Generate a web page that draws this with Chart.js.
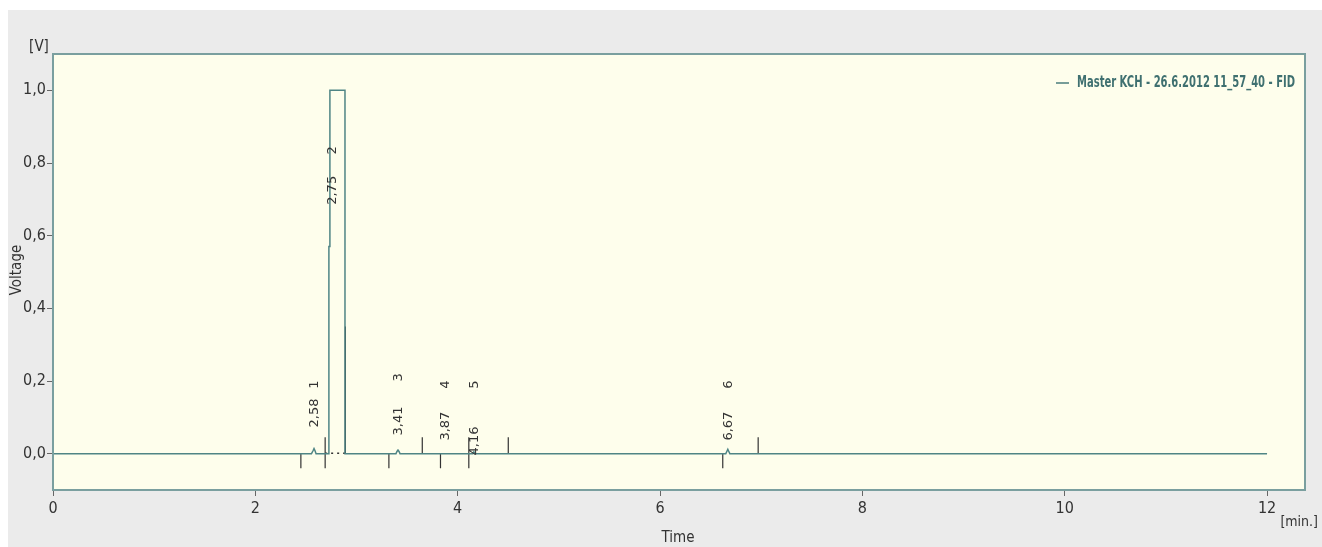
<!DOCTYPE html>
<html>
<head>
<meta charset="utf-8">
<script src="https://cdn.jsdelivr.net/npm/chart.js@4.4.1/dist/chart.umd.min.js"></script>
<style>
  body { margin: 0; background: #fff; }
  canvas { display: block; }
</style>
</head>
<body>
<canvas id="myChart" width="1322" height="547"></canvas>
<script>
const ctx = document.getElementById('myChart');

// chromatogram trace (time in min, signal in V)
var traceTimes = [0, 2.555, 2.57, 2.58, 2.59, 2.60, 2.727, 2.727, 2.737, 2.737, 2.886, 2.886, 2.90,
                  3.39, 3.40, 3.41, 3.42, 3.43, 4.15, 4.16, 4.17, 6.65, 6.66, 6.67, 6.68, 6.69, 12];
var traceVolts = [0, 0, 0.008, 0.014, 0.008, 0, 0, 0.57, 0.57, 1.0, 1.0, 0, 0,
                  0, 0.006, 0.01, 0.006, 0, 0, 0.005, 0, 0, 0.006, 0.012, 0.006, 0, 0];

// integration markers
var markerTimes = [2.45, 2.69, 2.89, 3.32, 3.65, 3.83, 4.11, 4.50, 6.62, 6.97];
var markerLow  = [-0.04, -0.04, 0, -0.04, 0, -0.04, -0.04, 0, -0.04, 0];
var markerHigh = [0, 0.045, 0.35, 0, 0.045, 0, 0.045, 0.045, 0, 0.045];

// peak labels
var peakTimes = [2.58, 2.75, 3.41, 3.87, 4.16, 6.67];
var peakNames = ['1', '2', '3', '4', '5', '6'];
var peakLabelBase = [0.072, 0.685, 0.05, 0.036, -0.005, 0.036];
var peakNameLevel = [0.19, 0.835, 0.21, 0.19, 0.19, 0.19];

var yTicks = [0, 0.2, 0.4, 0.6, 0.8, 1.0];
var xTicks = [0, 2, 4, 6, 8, 10, 12];

var traceData = traceTimes.map((t, i) => ({ x: t, y: traceVolts[i] }));
var markerData = [];
markerTimes.forEach((t, i) => {
  markerData.push({ x: t, y: markerLow[i] }, { x: t, y: markerHigh[i] }, { x: t, y: null });
});

const narrow = "'Liberation Sans Narrow', 'DejaVu Sans Condensed', 'Liberation Sans', sans-serif";
const fmt = v => v.toFixed(1).replace('.', ',');
const fmt2 = v => v.toFixed(2).replace('.', ',');

const decor = {
  id: 'decor',
  beforeDraw(chart) {
    const c = chart.ctx, a = chart.chartArea;
    c.save();
    c.fillStyle = '#ebebeb';
    c.fillRect(8, 10, chart.width - 8, chart.height - 10);
    c.fillStyle = '#fefeec';
    c.fillRect(a.left, a.top, a.right - a.left, a.bottom - a.top);
    c.restore();
  },
  afterDraw(chart) {
    const c = chart.ctx, a = chart.chartArea;
    const xs = chart.scales.x, ys = chart.scales.y;
    c.save();
    c.strokeStyle = '#7a9f9f';
    c.lineWidth = 2;
    c.strokeRect(a.left, a.top, a.right - a.left, a.bottom - a.top);

    // peak labels: retention time, peak number above
    c.fillStyle = '#333';
    c.font = '13px "DejaVu Sans", sans-serif';
    c.textBaseline = 'middle';
    peakTimes.forEach((t, i) => {
      const px = xs.getPixelForValue(t) + 1;
      c.save();
      c.translate(px, ys.getPixelForValue(peakLabelBase[i]));
      c.rotate(-Math.PI / 2);
      c.textAlign = 'left';
      c.fillText(fmt2(t), 0, 0);
      c.restore();
      c.save();
      c.translate(px, ys.getPixelForValue(peakNameLevel[i]));
      c.rotate(-Math.PI / 2);
      c.textAlign = 'center';
      c.fillText(peakNames[i], 0, 0);
      c.restore();
    });

    // axis titles and units
    c.fillStyle = '#333';
    c.font = '15px ' + narrow;
    c.textAlign = 'center';
    c.textBaseline = 'middle';
    c.fillText('[V]', 39, 47);
    c.fillText('Time', 678, 538);
    c.save();
    c.translate(17, 270);
    c.rotate(-Math.PI / 2);
    c.fillText('Voltage', 0, 0);
    c.restore();
    c.font = '14px ' + narrow;
    c.textAlign = 'right';
    c.fillText('[min.]', 1318, 522);

    // legend
    c.strokeStyle = '#4a7d7d';
    c.lineWidth = 1.5;
    c.beginPath();
    c.moveTo(1056, 83);
    c.lineTo(1069, 83);
    c.stroke();
    c.fillStyle = '#3f7070';
    c.font = 'bold 16px ' + narrow;
    c.textAlign = 'left';
    c.fillText('Master KCH - 26.6.2012 11_57_40 - FID', 1077, 83, 218);
    c.restore();
  }
};

new Chart(ctx, {
  type: 'line',
  data: {
    datasets: [{
      label: 'Master KCH - 26.6.2012 11_57_40 - FID',
      data: traceData,
      borderColor: '#4f8585',
      borderWidth: 1.5,
      pointRadius: 0,
      tension: 0
    }, {
      label: 'baseline',
      data: [{ x: 2.69, y: 0.001 }, { x: 2.89, y: 0.001 }],
      borderColor: '#333',
      borderWidth: 1.5,
      borderDash: [2, 4],
      pointRadius: 0
    }, {
      label: 'markers',
      data: markerData,
      borderColor: '#333',
      borderWidth: 1.2,
      pointRadius: 0,
      spanGaps: false
    }]
  },
  options: {
    responsive: false,
    animation: false,
    layout: { padding: { left: 0, top: 54, right: 17, bottom: 0 } },
    plugins: { legend: { display: false }, tooltip: { enabled: false } },
    scales: {
      x: {
        type: 'linear',
        min: 0,
        max: 12.375,
        afterFit: s => { s.height = 57; },
        afterBuildTicks: s => { s.ticks = xTicks.map(v => ({ value: v })); },
        grid: { drawOnChartArea: false, tickLength: 6, color: '#666' },
        border: { display: false },
        ticks: { color: '#333', font: { family: narrow, size: 16 }, padding: 3, callback: v => String(v) }
      },
      y: {
        min: -0.1,
        max: 1.1,
        afterFit: s => { s.width = 53; },
        afterBuildTicks: s => { s.ticks = yTicks.map(v => ({ value: v })); },
        grid: { drawOnChartArea: false, tickLength: 6, color: '#666' },
        border: { display: false },
        ticks: { color: '#333', font: { family: narrow, size: 16 }, padding: 1, callback: v => fmt(v) }
      }
    }
  },
  plugins: [decor]
});
</script>
</body>
</html>
